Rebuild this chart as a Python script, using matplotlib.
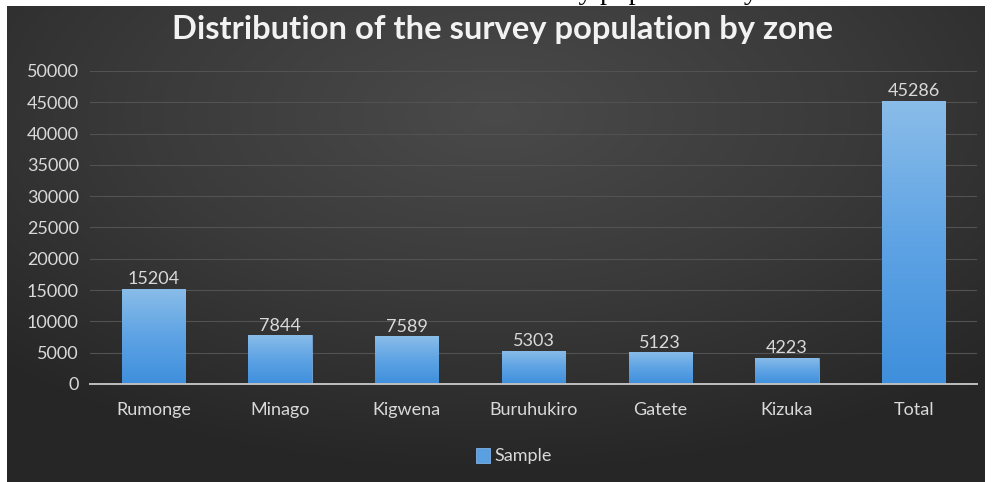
import numpy as np
import matplotlib
matplotlib.use("Agg")
import matplotlib.pyplot as plt
from matplotlib.colors import LinearSegmentedColormap

# Data
zones = ["Rumonge", "Minago", "Kigwena", "Buruhukiro", "Gatete", "Kizuka", "Total"]
sample = [15204, 7844, 7589, 5303, 5123, 4223, 45286]
y_ticks = [0, 5000, 10000, 15000, 20000, 25000, 30000, 35000, 40000, 45000, 50000]

title = "Distribution of the survey population by zone"
caption = "Chart 2: Distribution of the survey population by zone"
series_name = "Sample"

W, H = 992, 482
fig = plt.figure(figsize=(W / 100, H / 100), dpi=100)
fig.patch.set_facecolor("white")

FONT = "Lato"
TXT = "#d9d9d9"

# Caption above the dark panel (mostly cut off at the top edge)
fig.text(509 / W, 1 + 1 / H, caption, ha="center", va="baseline",
         fontfamily="Liberation Serif", fontsize=20.6, color="black", zorder=-5)

# Dark panel with radial gradient
px0, px1, py0, py1 = 7, 985, 6, 482
bg = fig.add_axes([px0 / W, 1 - py1 / H, (px1 - px0) / W, (py1 - py0) / H], zorder=-1)
gx = np.linspace(-1, 1, 500)
gy = np.linspace(-1, 1, 250)
GX, GY = np.meshgrid(gx, gy)
R = np.sqrt(GX ** 2 + (GY + 0.55) ** 2 * 0.9)
R = np.clip(R / 1.45, 0, 1)
bg_cmap = LinearSegmentedColormap.from_list("bg", ["#4a4a4a", "#3a3a3a", "#262626"])
bg.imshow(R, cmap=bg_cmap, aspect="auto", extent=[0, 1, 0, 1], origin="upper")
bg.set_axis_off()

# Main plotting axes
ax_l, ax_r, ax_t, ax_b = 90, 977, 71, 384
ax = fig.add_axes([ax_l / W, 1 - ax_b / H, (ax_r - ax_l) / W, (ax_b - ax_t) / H])
ax.set_facecolor("none")

x = np.arange(len(zones))
bars = ax.bar(x, sample, width=0.5, color="#5a9fe0", zorder=3, label=series_name)

# Gradient fill for each bar
bar_cmap = LinearSegmentedColormap.from_list("bar", ["#3f8fdc", "#5ea3e4", "#8abde9"])
grad = np.linspace(0, 1, 256).reshape(-1, 1)
grad = np.hstack([grad, grad])
for b in bars:
    bx, by = b.get_x(), b.get_y()
    bw, bh = b.get_width(), b.get_height()
    im = ax.imshow(grad, cmap=bar_cmap, aspect="auto", origin="lower",
                   extent=[bx, bx + bw, by, by + bh], zorder=3)
    im.set_clip_path(b)
    b.set_facecolor("none")
    b.set_edgecolor("#7fb2e6")
    b.set_linewidth(0.6)

ax.set_xlim(-0.5, len(zones) - 0.5)
ax.set_ylim(0, 50000)
ax.set_yticks(y_ticks)
ax.set_yticklabels([str(v) for v in y_ticks])
ax.set_xticks(x)
ax.set_xticklabels(zones)

ax.grid(axis="y", color="#525252", linewidth=0.8, zorder=0)
ax.set_axisbelow(True)
for s in ["top", "right", "left"]:
    ax.spines[s].set_visible(False)
ax.spines["bottom"].set_color("#bfbfbf")
ax.spines["bottom"].set_linewidth(1.4)
ax.spines["bottom"].set_zorder(4)
ax.tick_params(axis="both", length=0, colors=TXT, labelsize=13)
ax.tick_params(axis="y", pad=8)
ax.tick_params(axis="x", pad=13)
for lab in ax.get_xticklabels() + ax.get_yticklabels():
    lab.set_fontfamily(FONT)

ax.bar_label(bars, labels=[str(v) for v in sample], padding=1,
             color=TXT, fontsize=13, fontfamily=FONT)

fig.text(502 / W, 1 - 30 / H, title, ha="center", va="center",
         fontfamily=FONT, fontweight="bold", fontsize=23.6, color="#f2f2f2")

leg = fig.legend(handles=[bars], labels=[series_name], loc="center",
                 bbox_to_anchor=(514 / W, 1 - 456 / H), frameon=False,
                 handlelength=0.8, handleheight=0.9, handletextpad=0.25,
                 prop={"family": FONT, "size": 13})
for t in leg.get_texts():
    t.set_color(TXT)
leg.legend_handles[0].set_facecolor("#5a9fe0")

fig.savefig("out.png", dpi=100, facecolor=fig.get_facecolor())
